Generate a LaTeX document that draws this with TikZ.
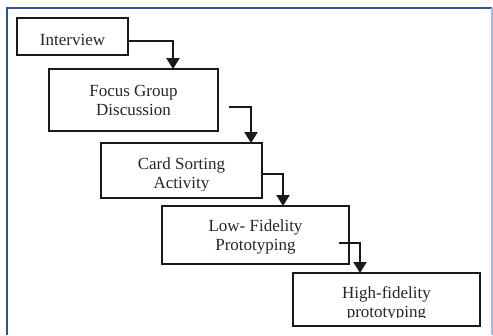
\documentclass[tikz,border=0pt]{standalone}
\usepackage{fontspec}
\setmainfont{Liberation Serif}
\usetikzlibrary{arrows.meta}
\definecolor{framedark}{RGB}{47,84,150}
\definecolor{framelight}{RGB}{165,185,218}
\begin{document}
\begin{tikzpicture}[x=1pt,y=-1pt,
  stepbox/.style={draw=black!90,line width=2.3pt,rectangle,inner sep=0pt,outer sep=0pt},
  label/.style={font=\fontsize{17}{19}\selectfont,align=center,anchor=base,inner sep=0pt,text=black!85},
  flow/.style={draw=black!90,line width=2.3pt,-{Triangle[width=13pt,length=11pt]}}]
\useasboundingbox (0,0) rectangle (493,335);
\fill[white] (0,0) rectangle (493,335);
% frame
\draw[framedark,line width=2.4pt] (7,335) -- (7,8) -- (492,8);
\draw[framelight,line width=1.6pt] (492,8) -- (492,335);
% boxes
\node[stepbox,minimum width=111pt,minimum height=37pt] (iv) at (72.5,36.5) {};
\node[stepbox,minimum width=169pt,minimum height=62pt] (fg) at (133.5,100) {};
\node[stepbox,minimum width=161pt,minimum height=55pt] (cs) at (181.5,170.5) {};
\node[stepbox,minimum width=187pt,minimum height=58pt] (lf) at (255.5,235) {};
\node[stepbox,minimum width=187pt,minimum height=53pt] (hf) at (386.5,299.5) {};
% texts (base anchor = baseline of last line)
\node[label] (tiv) at (72.5,45) {Interview};
\node[label] (tfg) at (133.5,115) {Focus Group\\Discussion};
\begin{scope}
\clip (102,144) rectangle (261,190.5);
\node[label] (tcs) at (181.5,188) {Card Sorting\\Activity};
\end{scope}
\node[label] (tlf) at (255.5,250) {Low- Fidelity\\Prototyping};
\begin{scope}
\clip (294,274) rectangle (479,317.5);
\node[label] (thf) at (386.5,317) {High-fidelity\\prototyping};
\end{scope}
% connector start points
\coordinate (s1) at (128,41);
\coordinate (s2) at (229,107);
\coordinate (s3) at (262,174);
\coordinate (s4) at (339,243);
\coordinate (e1) at (173,69);
\coordinate (e2) at (251,143);
\coordinate (e3) at (283,206);
\coordinate (e4) at (360,273);
\draw[flow] (s1) -| (e1);
\draw[flow] (s2) -| (e2);
\draw[flow] (s3) -| (e3);
\draw[flow] (s4) -| (e4);
\end{tikzpicture}
\end{document}
